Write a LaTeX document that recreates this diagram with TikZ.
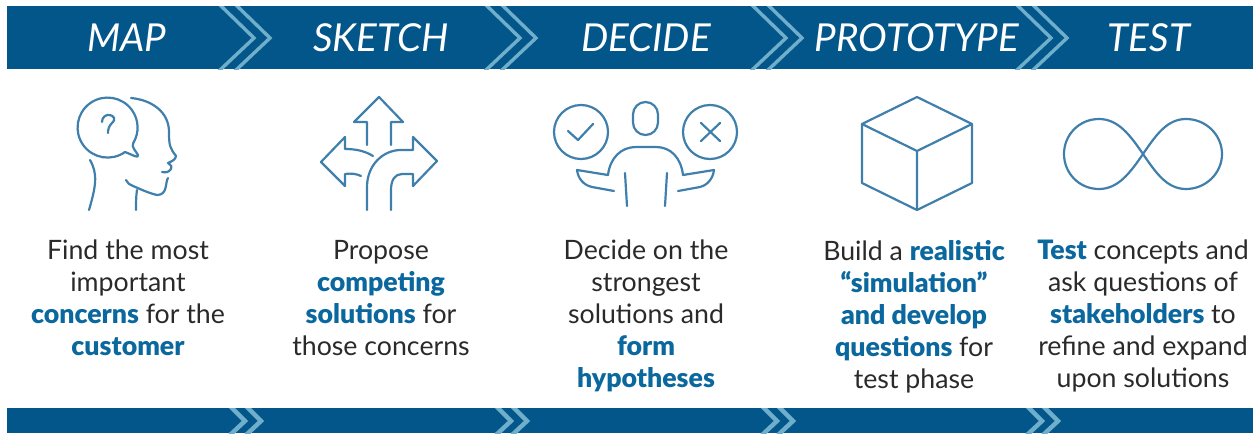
\documentclass[tikz,border=0pt]{standalone}
\usepackage{fontspec}
\setmainfont{Lato}[BoldFont={Lato Black}]
\definecolor{barblue}{HTML}{03568A}
\definecolor{chevblue}{HTML}{6FAFCB}
\definecolor{iconblue}{HTML}{3F7FAC}
\definecolor{wordblue}{HTML}{0B689E}
\definecolor{copygrey}{HTML}{2A2A2A}
\newcommand{\hl}[1]{\textcolor{wordblue}{\textbf{#1}}}
\tikzset{
    heading/.style={text=white, font=\fontsize{38.5}{38.5}\selectfont\itshape, inner sep=0},
    copytext/.style={text=copygrey, font=\fontsize{26.7}{32}\selectfont, align=center, inner sep=0, anchor=north},
    bar/.style={fill=barblue, draw=none},
    chevron/.style={draw=chevblue, line width=3.4pt},
    lowchevron/.style={draw=chevblue, line width=4.4pt},
    icon/.style={draw=iconblue, line width=2.2pt, line cap=round, line join=round}
}
\begin{document}
\begin{tikzpicture}[x=1pt, y=-1pt]
    \useasboundingbox (0, 0) rectangle (1253, 434);
    \fill[bar] (7, 6) rectangle (1253, 69);
    \fill[bar] (7, 408) rectangle (1253, 433);
    % chevrons
    \begin{scope}
        \clip (7, 6) rectangle (1253, 69);
        \foreach \x in {219, 235, 485, 501, 751, 767, 1016, 1032}
            \draw[chevron] (\x, 4) -- (\x + 35, 38) -- (\x, 71);
    \end{scope}
    \begin{scope}
        \clip (7, 408) rectangle (1253, 433);
        \foreach \x in {230, 246, 496, 512, 762, 778, 1027, 1043}
            \draw[lowchevron] (\x, 406) -- (\x + 15, 421) -- (\x, 435);
    \end{scope}
    % headings
    \node[heading] (map) at (127, 38) {MAP};
    \node[heading] (sketch) at (381, 38) {SKETCH};
    \node[heading] (decide) at (646, 38) {DECIDE};
    \node[heading] (prototype) at (917, 38) {PROTOTYPE};
    \node[heading] (testhead) at (1149, 38) {TEST};
    % head
    \draw[icon] (125, 152) arc[start angle=54.5, end angle=391, radius=30]
        .. controls (131, 147) and (136, 151) .. (138, 155)
        .. controls (139, 159) and (133, 155) .. (125, 152);
    \draw[icon] (102, 122) .. controls (102, 117) and (106, 115) .. (108, 115)
        .. controls (115, 115) and (116, 120) .. (112, 123)
        .. controls (109, 126) and (108, 129) .. (108, 133);
    \draw[icon] (131, 98) .. controls (152, 100) and (169, 112) .. (169, 132)
        .. controls (169, 146) and (170, 148) .. (176, 156)
        .. controls (176, 160) and (170, 162) .. (168, 163)
        .. controls (172, 166) and (172, 167) .. (171, 169)
        .. controls (169, 172) and (166, 173) .. (162, 172);
    \draw[icon] (168, 178) .. controls (165, 182) and (168, 195) .. (157, 195)
        .. controls (148, 193) and (138, 188) .. (133, 186)
        .. controls (130, 185) and (127, 183) .. (126, 180);
    \draw[icon] (137, 190) .. controls (136, 196) and (136, 204) .. (136, 210);
    \draw[icon] (90, 160) .. controls (98, 174) and (96, 186) .. (89, 210);
    % arrows
    \draw[icon] (367, 145) -- (367, 122) -- (354, 122) -- (379, 97) -- (403, 122) -- (391, 122) -- (391, 145);
    \draw[icon] (373, 156) .. controls (365, 151) and (356, 149) .. (345, 149) -- (345, 137) -- (321, 162) -- (345, 186) -- (345, 174)
        .. controls (351, 173) and (357, 174) .. (361, 176);
    \draw[icon] (367, 210) -- (367, 187) .. controls (367, 165) and (383, 150) .. (401, 150) -- (413, 150) -- (413, 137) -- (437, 161) -- (413, 186) -- (413, 174) -- (402, 174)
        .. controls (395, 174) and (391, 180) .. (391, 190) -- (391, 210);
    % person
    \draw[icon] (581, 132) circle [radius=27];
    \draw[icon] (710, 132) circle [radius=27];
    \draw[icon] (568, 131) -- (578, 140) -- (593, 124);
    \draw[icon] (701, 123) -- (720, 141) (720, 123) -- (701, 141);
    \draw[icon, rounded corners=12.5pt] (633, 102) rectangle (658, 135);
    \draw[icon] (614, 191) -- (592, 187) .. controls (583, 185) and (578, 178) .. (577, 170) -- (608, 175)
        .. controls (610, 158) and (621, 147) .. (636, 147) -- (656, 147)
        .. controls (671, 147) and (681, 158) .. (683, 175) -- (714, 170)
        .. controls (713, 178) and (708, 185) .. (700, 187) -- (678, 191);
    \draw[icon] (625, 173) -- (627, 206);
    \draw[icon] (667, 173) -- (665, 206);
    % cube
    \draw[icon] (917, 97) -- (972, 124) -- (972, 183) -- (917, 210) -- (862, 183) -- (862, 124) -- cycle;
    \draw[icon] (862, 124) -- (917, 151) -- (972, 124) (917, 151) -- (917, 210);
    % infinity
    \draw[icon] (1143, 154) .. controls (1130, 135) and (1118, 119) .. (1099, 119)
        .. controls (1079, 119) and (1064, 135) .. (1064, 154)
        .. controls (1064, 173) and (1079, 189) .. (1099, 189)
        .. controls (1118, 189) and (1130, 173) .. (1143, 154)
        .. controls (1156, 135) and (1167, 119) .. (1186, 119)
        .. controls (1206, 119) and (1222, 135) .. (1222, 154)
        .. controls (1222, 173) and (1206, 189) .. (1186, 189)
        .. controls (1167, 189) and (1156, 173) .. (1143, 154);
    % text under the icons
    \node[copytext] (findtext) at (128, 240) {Find the most\\important\\\hl{concerns} for the\\\hl{customer}};
    \node[copytext] (proposetext) at (381, 240) {Propose\\\hl{competing}\\\hl{solutions} for\\those concerns};
    \node[copytext] (decidetext) at (646, 240) {Decide on the\\strongest\\solutions and\\\hl{form}\\\hl{hypotheses}};
    \node[copytext] (buildtext) at (914, 240) {Build a \hl{realistic}\\\hl{“simulation”}\\\hl{and develop}\\\hl{questions} for\\test phase};
    \node[copytext] (testtext) at (1143, 240) {\hl{Test} concepts and\\ask questions of\\\hl{stakeholders} to\\refine and expand\\upon solutions};
\end{tikzpicture}
\end{document}
